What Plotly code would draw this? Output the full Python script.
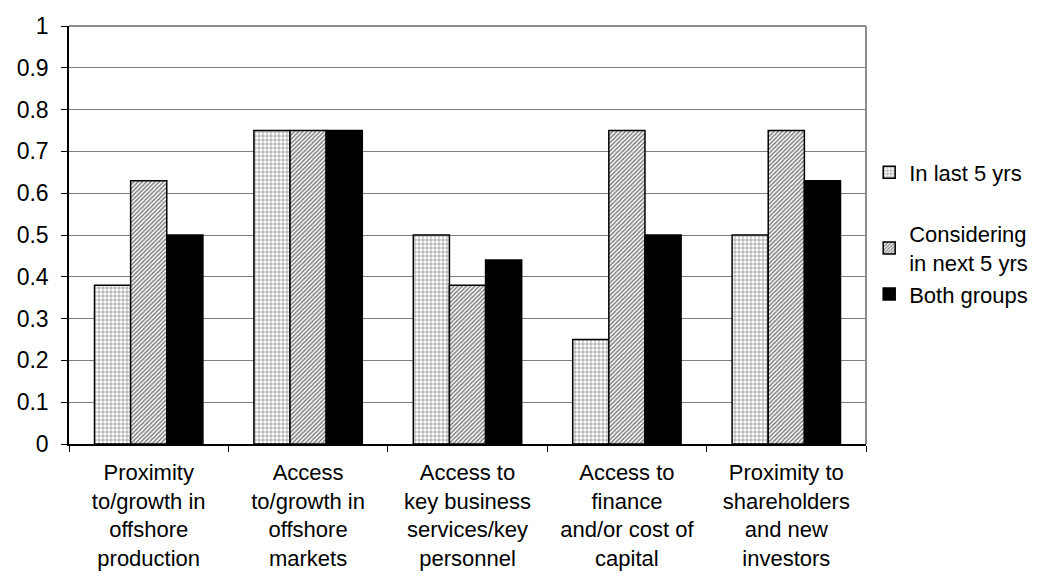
import plotly.graph_objects as go

categories = [
    "Proximity<br>to/growth in<br>offshore<br>production",
    "Access<br>to/growth in<br>offshore<br>markets",
    "Access to<br>key business<br>services/key<br>personnel",
    "Access to<br>finance<br>and/or cost of<br>capital",
    "Proximity to<br>shareholders<br>and new<br>investors",
]
last_5_yrs = [0.38, 0.75, 0.50, 0.25, 0.50]
next_5_yrs = [0.63, 0.75, 0.38, 0.75, 0.75]
both_groups = [0.50, 0.75, 0.44, 0.50, 0.63]

series_names = ["In last 5 yrs", "Considering<br>in next 5 yrs", "Both groups"]

FONT = "Liberation Sans, Arial, sans-serif"
outline = dict(color="black", width=1.5)

fig = go.Figure()
fig.add_trace(go.Bar(
    x=categories, y=last_5_yrs, name=series_names[0], legendgroup="a",
    marker=dict(color="white", line=outline,
                pattern=dict(shape="+", fgcolor="black", bgcolor="white",
                             size=4, solidity=0.3)),
))
fig.add_trace(go.Bar(
    x=categories, y=next_5_yrs, name=series_names[1], legendgroup="b",
    marker=dict(color="white", line=outline,
                pattern=dict(shape="/", fgcolor="black", bgcolor="white",
                             size=3, solidity=0.5)),
))
fig.add_trace(go.Bar(
    x=categories, y=both_groups, name=series_names[2], legendgroup="b",
    marker=dict(color="black", line=outline),
))

fig.update_layout(
    width=1058, height=578,
    margin=dict(l=69, r=192, t=26, b=134),
    paper_bgcolor="white", plot_bgcolor="white",
    font=dict(family=FONT, size=22, color="black"),
    barmode="group", bargap=0.32, bargroupgap=0,
    legend=dict(x=1.004, y=0.70, xanchor="left", yanchor="top",
                font=dict(size=22), traceorder="grouped",
                tracegroupgap=30, bgcolor="rgba(0,0,0,0)"),
    showlegend=True,
)
fig.update_xaxes(
    tickson="boundaries", ticks="outside", ticklen=6, tickcolor="black",
    showline=True, linecolor="black", linewidth=1.5, automargin=False,
    tickfont=dict(size=22), showgrid=False, ticklabelstandoff=8,
)
fig.update_yaxes(
    range=[0, 1], dtick=0.1, ticks="outside", ticklen=6, tickcolor="black",
    showline=True, linecolor="black", linewidth=1.5, automargin=False,
    showgrid=True, gridcolor="#7f7f7f", gridwidth=1,
    tickfont=dict(size=23), zeroline=False, ticklabelstandoff=8,
)
# gray frame on top and right of the plotting area
fig.add_shape(type="line", xref="x domain", yref="y domain",
              x0=0, x1=1, y0=1, y1=1, line=dict(color="#8c8c8c", width=2))
fig.add_shape(type="line", xref="x domain", yref="y domain",
              x0=1, x1=1, y0=0, y1=1, line=dict(color="#8c8c8c", width=2))

fig.write_html("out.html")
